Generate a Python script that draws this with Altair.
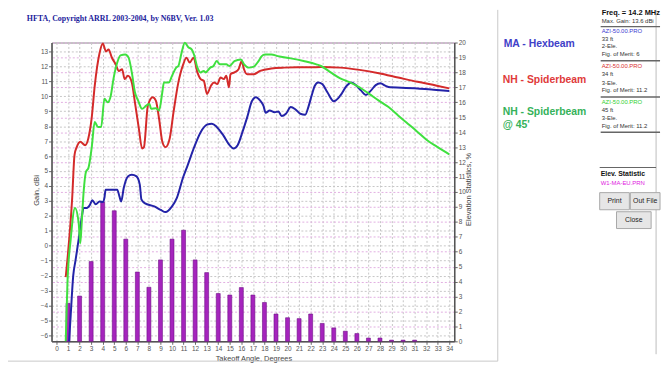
import altair as alt
import pandas as pd

# ---------------- data ----------------
bar_deg = list(range(1, 32))
elev_stat = [2.55, 3.03, 5.34, 9.32, 8.74, 6.84, 4.64, 3.62, 5.45, 6.84, 7.44, 5.45,
             4.6, 3.2, 3.1, 3.6, 3.1, 2.6, 1.83, 1.58, 1.52, 1.83, 1.2, 0.9, 0.68,
             0.52, 0.22, 0.22, 0.08, 0.08, 0.08]

red_deg = [0.8, 1.36, 1.56, 1.75, 2.06, 2.48, 2.76, 3.04, 3.31, 3.73, 4.01, 4.29, 4.51,
           4.79, 5.12, 5.4, 5.68, 5.9, 6.18, 6.52, 6.79, 7.13, 7.41, 7.57, 7.91, 8.33,
           8.6, 8.88, 9.16, 9.44, 9.8, 10.13, 10.55, 10.97, 11.25, 11.53, 11.86, 12.2,
           12.48, 12.75, 13.03, 13.37, 13.64, 13.92, 14.2, 14.48, 14.7, 14.93, 15.06,
           15.4, 15.76, 16.04, 16.23, 16.51, 17.07, 17.63, 18.6, 19.72, 20.83, 21.95,
           22.9, 24.56, 26.23, 27.9, 29.57, 31.25, 32.92, 34]
red_gain = [-2.1, 3.2, 6.07, 6.6, 6.96, 6.73, 7.2, 8.5, 10.7, 12.9, 13.53, 13.0, 13.14,
            12.6, 12.14, 11.7, 11.81, 11.15, 11.37, 10.93, 9.6, 7.84, 6.51, 6.6, 9.38,
            9.94, 9.71, 8.5, 6.96, 6.6, 7.18, 8.94, 10.93, 12.14, 12.59, 12.26, 12.59,
            11.6, 11.15, 11.04, 10.16, 10.71, 10.93, 10.82, 11.26, 11.15, 11.37, 10.6,
            11.48, 11.6, 11.81, 12.36, 11.81, 11.48, 11.48, 11.7, 11.86, 11.92, 11.94,
            11.94, 11.96, 11.92, 11.77, 11.55, 11.26, 10.97, 10.71, 10.53]

green_deg = [0.8, 0.95, 1.23, 1.6, 1.92, 2.06, 2.2, 2.34, 2.56, 2.76, 3.04, 3.31, 3.59,
             3.87, 4.15, 4.43, 4.7, 4.93, 5.26, 5.54, 5.96, 6.24, 6.52, 6.79, 7.07,
             7.41, 7.77, 8.05, 8.19, 8.6, 8.88, 9.16, 9.3, 9.72, 10.0, 10.36, 10.55,
             10.83, 11.11, 11.39, 11.7, 11.9, 12.2, 12.48, 12.75, 12.9, 13.31, 13.59,
             13.87, 14.15, 14.7, 14.98, 15.4, 15.96, 16.24, 16.65, 17.07, 17.49, 17.77,
             18.05, 18.6, 19.16, 20.28, 21.39, 22.5, 22.9, 23.73, 24.56, 25.4, 26.23,
             27.07, 27.9, 28.74, 29.57, 30.41, 31.25, 32.08, 32.92, 34]
green_gain = [-6.4, -2.45, 0.42, 2.52, 1.53, 0.15, 1.75, 3.5, 4.97, 5.19, 6.51, 8.28,
              7.95, 7.95, 9.83, 9.6, 10.04, 11.15, 12.26, 12.74, 12.8, 12.59, 11.6,
              10.27, 9.71, 9.16, 9.38, 9.49, 9.16, 9.2, 9.05, 10.27, 10.93, 10.93,
              11.37, 11.92, 12.03, 12.92, 13.58, 13.3, 13.14, 12.8, 11.92, 11.6, 11.7,
              11.6, 11.92, 12.03, 12.36, 12.14, 12.14, 12.03, 12.36, 12.47, 12.14,
              11.92, 11.99, 12.36, 12.69, 12.8, 12.8, 12.69, 12.54, 12.36, 12.14,
              12.03, 11.6, 11.2, 10.93, 10.6, 10.16, 9.71, 9.28, 8.72, 8.17, 7.62,
              7.06, 6.63, 6.12]

blue_deg = [1.09, 1.23, 1.45, 1.64, 1.92, 2.2, 2.34, 2.62, 2.9, 3.1, 3.4, 3.73, 4.01,
            4.15, 4.25, 4.7, 5.26, 5.45, 5.6, 5.82, 6.18, 6.52, 6.93, 7.21, 7.35, 7.63,
            8.47, 9.02, 9.44, 10.0, 10.42, 10.97, 11.36, 11.92, 12.48, 13.03, 13.45,
            13.87, 14.43, 14.98, 15.32, 15.68, 16.1, 16.51, 16.93, 17.27, 17.63,
            17.91, 18.1, 18.46, 18.88, 19.21, 19.49, 19.86, 20.28, 20.69, 21.11,
            21.53, 21.8, 22.08, 22.36, 22.64, 23.0, 23.45, 24.0, 24.56, 25.12, 25.54,
            25.96, 26.37, 26.79, 27.21, 27.63, 28.04, 28.46, 28.88, 29.85, 31.25,
            32.64, 34]
blue_gain = [-6.4, -4.66, -2.0, -1.02, 0.42, 1.96, 2.52, 2.52, 2.74, 3.05, 2.78, 2.96,
             2.92, 3.2, 3.75, 3.75, 3.75, 3.3, 2.96, 3.86, 4.64, 4.75, 4.64, 4.09, 3.1,
             2.85, 2.63, 2.4, 2.25, 2.63, 3.2, 4.6, 5.4, 6.6, 7.6, 8.1, 8.17, 7.95,
             7.4, 6.73, 6.51, 6.73, 7.62, 8.61, 9.71, 9.94, 9.71, 9.38, 8.9, 9.05,
             8.94, 8.98, 8.68, 8.83, 9.28, 9.12, 8.83, 8.77, 9.28, 10.04, 10.71, 10.93,
             10.82, 10.27, 9.67, 10.04, 10.71, 10.93, 10.71, 10.38, 10.09, 10.38,
             10.75, 10.88, 10.71, 10.6, 10.58, 10.53, 10.44, 10.35]

series_names = ["MA - Hexbeam", "NH - Spiderbeam", "NH - Spiderbeam @ 45'"]
series_colors = ["#2323a8", "#d42a2a", "#3fe03f"]

x_ticks = list(range(0, 35))
gain_ticks = list(range(-6, 14))
stat_ticks = list(range(0, 21))

# ---------------- tables ----------------
rows = []
for name, xs, ys in [(series_names[0], blue_deg, blue_gain),
                     (series_names[1], red_deg, red_gain),
                     (series_names[2], green_deg, green_gain)]:
    for i, (a, g) in enumerate(zip(xs, ys)):
        rows.append({"series": name, "deg": a, "gain": g, "i": i})
lines_df = pd.DataFrame(rows)
bars_df = pd.DataFrame({"deg": bar_deg, "stat": elev_stat})

FONT = "Liberation Sans"

x_scale = alt.Scale(domain=[0, 34], nice=False, zero=False)
gain_scale = alt.Scale(domain=[-6.4, 13.6], nice=False, zero=False)
stat_scale = alt.Scale(domain=[0, 20], nice=False, zero=True)

common_axis = dict(labelFont=FONT, labelFontSize=6.5, labelColor="#555",
                   titleFont=FONT, titleFontSize=7.5, titleFontWeight="normal",
                   titleColor="#444", tickColor="#666", tickSize=3, domainColor="#555",
                   domainWidth=1.5, gridDash=[2, 2], gridWidth=1)

x_axis = alt.Axis(values=x_ticks, title="Takeoff Angle, Degrees", grid=True,
                  gridColor="#c6c6c6", labelPadding=1, titleX=204, titleY=17,
                  titleBaseline="middle", titleAnchor="middle", **common_axis)

bars = alt.Chart(bars_df).mark_bar(width=4, color="#a524bd", stroke="#6c0f84",
                                   strokeWidth=0.6).encode(
    x=alt.X("deg:Q", scale=x_scale, axis=x_axis),
    y=alt.Y("stat:Q", scale=stat_scale,
            axis=alt.Axis(orient="right", values=stat_ticks, format="d",
                          title="Elevation Statistics, %", grid=True,
                          gridColor="#e2aee2", labelPadding=1, titleX=14, titleY=148,
                          titleAngle=-90, titleBaseline="middle", **common_axis)),
)

lines = alt.Chart(lines_df).mark_line(strokeWidth=2, strokeJoin="round",
                                      interpolate="monotone").encode(
    x=alt.X("deg:Q", scale=x_scale, axis=x_axis),
    y=alt.Y("gain:Q", scale=gain_scale,
            axis=alt.Axis(orient="left", values=gain_ticks, format="d",
                          title="Gain, dBi", grid=True, gridColor="#c6c6c6",
                          labelPadding=1, titleX=-15, titleY=149, titleAngle=-90,
                          titleBaseline="middle", **common_axis)),
    color=alt.Color("series:N", scale=alt.Scale(domain=series_names, range=series_colors),
                    legend=None),
    order="i:Q",
)

one = pd.DataFrame({"k": [0]})


def txt(s, x, y, size=6, color="#222", weight="normal", font=FONT, align="left"):
    return alt.Chart(one).mark_text(text=s, align=align, baseline="middle", font=font,
                                    fontSize=size, fontWeight=weight, color=color).encode(
        x=alt.value(x), y=alt.value(y))


def hline(x1, x2, y, color="#777", w=1.0):
    return alt.Chart(one).mark_rule(color=color, strokeWidth=w).encode(
        x=alt.value(x1), x2=alt.value(x2), y=alt.value(y))


def vline(x, y1, y2, color="#777", w=1.0):
    return alt.Chart(one).mark_rule(color=color, strokeWidth=w).encode(
        x=alt.value(x), y=alt.value(y1), y2=alt.value(y2))


def box(x1, x2, y1, y2, fill="#e6e6e6", stroke="#a8a8a8"):
    return alt.Chart(one).mark_rect(fill=fill, stroke=stroke, strokeWidth=1).encode(
        x=alt.value(x1), x2=alt.value(x2), y=alt.value(y1), y2=alt.value(y2))


blue_t, red_t, green_t = "#4040c8", "#e03a3a", "#35b25a"
deco = [
    txt("HFTA, Copyright ARRL 2003-2004, by N6BV, Ver. 1.03", -25, -24, size=8,
        color="#1c1c9c", weight="bold", font="Liberation Serif"),
    vline(451, -33, 322, color="#c8c8c8"),
    hline(-44, 451, 322, color="#c8c8c8"),
    vline(611, -33, 315, color="#bdbdbd"),
    txt("MA - Hexbeam", 457, 1.5, size=10.5, color=blue_t, weight="bold"),
    txt("NH - Spiderbeam", 456, 38, size=10.5, color=red_t, weight="bold"),
    txt("NH - Spiderbeam", 456, 70, size=10.5, color=green_t, weight="bold"),
    txt("@ 45'", 456, 83, size=10.5, color=green_t, weight="bold"),
    txt("Freq. = 14.2 MHz", 556, -30, size=7.5, color="#111", weight="bold"),
    txt("Max. Gain: 13.6 dBi", 556, -22, size=6, color="#333"),
    hline(555, 615, -16, color="#666", w=1.2),
    txt("AZI-50.00.PRO", 556, -11.7, size=6, color="#3a3ad0"),
    txt("33 ft", 556, -3.3, size=6, color="#333"),
    txt("2-Ele.", 556, 4, size=6, color="#333"),
    txt("Fig. of Merit: 6", 556, 11.3, size=6, color="#333"),
    hline(555, 615, 18.3, color="#666", w=1.5),
    txt("AZI-50.00.PRO", 556, 24, size=6, color="#d83030"),
    txt("34 ft", 556, 32.3, size=6, color="#333"),
    txt("3-Ele.", 556, 40.7, size=6, color="#333"),
    txt("Fig. of Merit: 11.2", 556, 48.3, size=6, color="#333"),
    hline(555, 615, 55, color="#666", w=1.5),
    txt("AZI-50.00.PRO", 556, 60, size=6, color="#30d030"),
    txt("45 ft", 556, 68, size=6, color="#333"),
    txt("3-Ele.", 556, 76.3, size=6, color="#333"),
    txt("Fig. of Merit: 11.2", 556, 84.7, size=6, color="#333"),
    hline(555, 615, 90.7, color="#666", w=1.5),
    hline(554, 611, 126.3, color="#666", w=1.2),
    txt("Elev. Statistic", 555, 133.3, size=7, color="#111", weight="bold"),
    txt("W1-MA-EU.PRN", 555, 141.7, size=6, color="#e020e0"),
    box(554, 584, 151.7, 169),
    box(585, 615, 151.7, 169),
    box(571, 606, 171, 188),
    txt("Print", 569, 160.5, size=7, color="#222", align="center"),
    txt("Out File", 600, 160.5, size=7, color="#222", align="center"),
    txt("Close", 588.5, 179.5, size=7, color="#222", align="center"),
]

chart = alt.layer(bars, lines, *deco).resolve_scale(y="independent").properties(
    width=407, height=302,
    autosize=alt.AutoSizeParams(type="none"),
    padding={"left": 44, "top": 33, "right": 212, "bottom": 21},
    background="white",
).configure_view(stroke="#888", strokeWidth=1)

chart.save("out.html", embed_options={"renderer": "svg", "actions": False})
